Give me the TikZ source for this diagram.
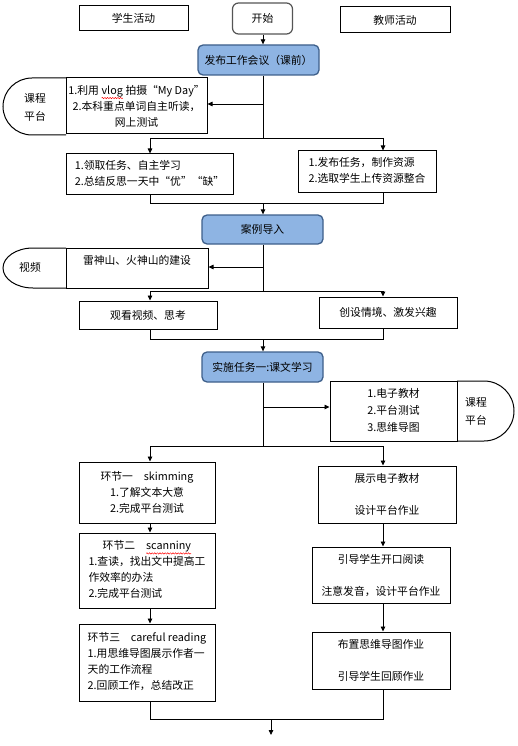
\documentclass[tikz,border=0pt]{standalone}
\usepackage{fontspec}
\setmainfont{Noto Sans CJK SC}
\usetikzlibrary{arrows.meta,decorations.pathmorphing}
\definecolor{bfill}{HTML}{8EB4E3}
\definecolor{bline}{HTML}{3E5F8A}
\definecolor{sline}{HTML}{555555}
\newcommand\redwave[1]{\tikz[baseline=(w.base)]{\node[inner sep=0pt, outer sep=0pt, minimum width=0pt, minimum height=0pt, draw=none, fill=none, rounded corners=0pt, align=left] (w) {#1};\draw[red, line width=0.45pt, rounded corners=0pt, decorate, decoration={snake, amplitude=0.7pt, segment length=2.6pt}] ([yshift=-1.2pt]w.south west) -- ([yshift=-1.2pt]w.south east);}}
\begin{document}
\begin{tikzpicture}[x=1pt,y=-1pt,
  font=\fontsize{10.8}{16}\selectfont,
  line width=0.8pt,
  frame/.style={draw, line width=1pt, inner sep=0pt, fill=white},
  box/.style={frame, align=center},
  bluebox/.style={box, fill=bfill, draw=bline, line width=1.3pt, rounded corners=5pt},
  startbox/.style={box, draw=sline, line width=1.2pt, rounded corners=6pt},
  dshape/.style={draw, line width=1pt},
  arr/.style={-{Triangle[length=5pt,width=4.5pt]}}]
\useasboundingbox (0,0) rectangle (517,746);

% header
\node[box, minimum width=109pt, minimum height=25pt] (stu) at (133.5,18.5) {学生活动};
\node[startbox, minimum width=60pt, minimum height=31pt] (start) at (262.5,18.5) {开始};
\node[box, minimum width=110pt, minimum height=26pt] (tea) at (395,20) {教师活动};

% pre-class
\node[bluebox, minimum width=121pt, minimum height=30pt] (meet) at (258.5,60) {发布工作会议（课前）};
\draw[dshape] (66,78) -- (32,78) arc[start angle=90, end angle=270, x radius=29pt, y radius=28.5pt] -- (66,135);
\node[align=center, font=\fontsize{10.8}{18}\selectfont] (plat1) at (35,107) {课程\\平台};
\node[box, minimum width=141pt, minimum height=56pt] (vlog) at (136.5,106) {1.利用 \redwave{vlog} 拍摄“My Day”\\2.本科重点单词自主听读，\\网上测试};
\node[frame, minimum width=167pt, minimum height=40pt] (recv) at (149.5,174) {\begin{tabular}{@{}l@{}}1.领取任务、自主学习\\2.总结反思一天中“优”“缺”\end{tabular}};
\node[frame, minimum width=138pt, minimum height=41pt] (pub) at (367,171.5) {\begin{tabular}{@{}l@{}}1.发布任务，制作资源\\2.选取学生上传资源整合\end{tabular}};

% case
\node[bluebox, minimum width=121pt, minimum height=29pt] (case) at (262.5,229.5) {案例导入};
\draw[dshape] (66,248) -- (33,248) arc[start angle=90, end angle=270, x radius=30pt, y radius=20pt] -- (66,288);
\node (video) at (30,267) {视频};
\node[box, minimum width=142pt, minimum height=40pt] (lei) at (137,268) {雷神山、火神山的建设\\\mbox{}};
\node[box, minimum width=138pt, minimum height=28pt] (watch) at (148,315) {观看视频、思考};
\node[box, minimum width=138pt, minimum height=31pt] (create) at (388,312.5) {创设情境、激发兴趣};

% task
\node[bluebox, minimum width=121pt, minimum height=30pt] (impl) at (262.5,367) {实施任务一:课文学习};
\draw[dshape] (457,381) -- (484,381) arc[start angle=90, end angle=-90, x radius=30pt, y radius=30pt] -- (457,441);
\node[align=center, font=\fontsize{10.8}{18}\selectfont] (plat2) at (476,411) {课程\\平台};
\node[frame, minimum width=127pt, minimum height=60pt] (mat) at (393.5,411) {\fontsize{10.8}{17}\selectfont\begin{tabular}{@{}l@{}}1.电子教材\\2.平台测试\\3.思维导图\end{tabular}};

\node[box, minimum width=136pt, minimum height=61pt] (h1) at (147,492.5) {环节一　skimming\\1.了解文本大意\\2.完成平台测试};
\node[frame, minimum width=136pt, minimum height=75pt] (h2) at (147,570.5) {\begin{tabular}{@{}l@{}}\multicolumn{1}{@{}c@{}}{环节二　\redwave{scanniny}}\\1.查读，找出文中提高工\\作效率的办法\\2.完成平台测试\end{tabular}};
\node[frame, minimum width=136pt, minimum height=77pt] (h3) at (147,662.5) {\begin{tabular}{@{}l@{}}\multicolumn{1}{@{}c@{}}{环节三　careful reading}\\1.用思维导图展示作者一\\天的工作流程\\2.回顾工作，总结改正\end{tabular}};

\node[box, minimum width=138pt, minimum height=57pt] (show) at (387,494.5) {展示电子教材\\\mbox{}\\设计平台作业};
\node[box, minimum width=138pt, minimum height=56pt] (guide) at (381,575) {引导学生开口阅读\\\mbox{}\\注意发音，设计平台作业};
\node[box, minimum width=138pt, minimum height=57pt] (mind) at (381,660.5) {布置思维导图作业\\\mbox{}\\引导学生回顾作业};

% junction coordinates
\coordinate (b1) at (263,104);
\coordinate (j1) at (263,138);
\coordinate (j1l) at (150,138);
\coordinate (j1r) at (383,138);
\coordinate (j2) at (263,203);
\coordinate (j2l) at (150,203);
\coordinate (j2r) at (383,203);
\coordinate (b2) at (263,267);
\coordinate (j3) at (263,291);
\coordinate (j3l) at (150,291);
\coordinate (j3r) at (383,291);
\coordinate (j4) at (263,339);
\coordinate (j4l) at (150,339);
\coordinate (j4r) at (383,339);
\coordinate (b3) at (263,407);
\coordinate (j5) at (263,446);
\coordinate (j5l) at (150,446);
\coordinate (j5r) at (383,446);
\coordinate (j6) at (271,719);
\coordinate (j6l) at (150,719);
\coordinate (j6r) at (383,719);
\coordinate (finish) at (271,735);

% connectors
\draw[arr] (start.south -| b1) -- (meet.north -| b1);
\draw (meet.south -| j1) -- (j1);
\draw[arr] (b1) -- (b1 -| vlog.east);
\draw (j1l) -- (j1r);
\draw[arr] (j1l) -- (j1l |- recv.north);
\draw[arr] (j1r) -- (j1r |- pub.north);

\draw (recv.south -| j2l) -- (j2l) -- (j2r) -- (pub.south -| j2r);
\draw[arr] (j2) -- (j2 |- case.north);

\draw (case.south -| j3) -- (j3);
\draw[arr] (b2) -- (b2 -| lei.east);
\draw (j3l) -- (j3r);
\draw[arr] (j3l) -- (j3l |- watch.north);
\draw[arr] (j3r) -- (j3r |- create.north);

\draw (watch.south -| j4l) -- (j4l) -- (j4r) -- (create.south -| j4r);
\draw[arr] (j4) -- (j4 |- impl.north);

\draw (impl.south -| j5) -- (j5);
\draw[arr] (b3) -- (b3 -| mat.west);
\draw (j5l) -- (j5r);
\draw[arr] (j5l) -- (j5l |- h1.north);
\draw[arr] (j5r) -- (j5r |- show.north);

\draw[arr] (h1.south -| j5l) -- (h2.north -| j5l);
\draw[arr] (h2.south -| j5l) -- (h3.north -| j5l);
\draw[arr] (show.south -| j5r) -- (guide.north -| j5r);
\draw[arr] (guide.south -| j5r) -- (mind.north -| j5r);

\draw (h3.south -| j6l) -- (j6l) -- (j6r) -- (mind.south -| j6r);
\draw[arr] (j6) -- (finish);
\end{tikzpicture}
\end{document}
